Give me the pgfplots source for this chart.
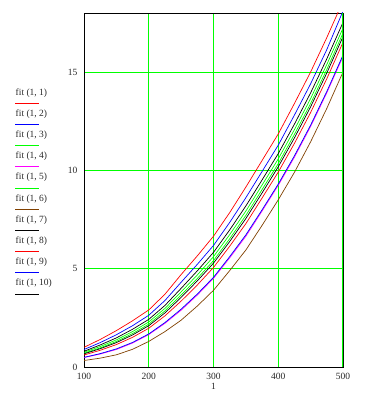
\documentclass[border=0pt]{standalone}
\usepackage{pgfplots}
\pgfplotsset{compat=1.18}
\usepackage{fontspec}
\setmainfont{Liberation Serif}
\definecolor{mgreen}{RGB}{0,255,0}
\definecolor{mred}{RGB}{255,0,0}
\definecolor{mblue}{RGB}{0,0,255}
\definecolor{mmag}{RGB}{255,0,255}
\definecolor{mbrown}{RGB}{128,64,0}
\definecolor{txt}{RGB}{40,40,40}
\begin{document}
\begin{tikzpicture}[x=1pt,y=1pt]
\path (0,0) rectangle (367,398);
\begin{axis}[
  at={(84pt,31pt)}, anchor=south west,
  scale only axis, width=259pt, height=354pt,
  xmin=100, xmax=500, ymin=0, ymax=18,
  xtick={100,200,300,400,500}, ytick={0,5,10,15},
  grid=major, major grid style={mgreen, line width=0.8pt},
  major tick length=0pt,
  axis line style={black, line width=0.8pt},
  tick label style={font=\fontsize{9.5}{10}\selectfont, text=txt},
  /pgf/number format/assume math mode=true,
  xticklabel style={yshift=-3pt},
  yticklabel style={xshift=-3pt},
  xlabel={1}, xlabel style={font=\fontsize{9.5}{10}\selectfont, text=txt, yshift=4pt},
  clip=true,
  every axis plot/.append style={line width=0.7pt},
]
% fit(1,1) red top
\addplot[mred] coordinates {(100,1.00)(125,1.40)(150,1.85)(175,2.35)(200,2.90)(225,3.70)(250,4.70)(275,5.65)(300,6.65)(325,7.85)(350,9.15)(375,10.50)(400,11.85)(425,13.40)(450,15.00)(475,16.75)(500,18.60)};
% fit(1,2) blue
\addplot[mblue] coordinates {(100,0.89)(125,1.24)(150,1.64)(175,2.10)(200,2.63)(225,3.38)(250,4.31)(275,5.22)(300,6.18)(325,7.35)(350,8.61)(375,9.94)(400,11.28)(425,12.81)(450,14.40)(475,16.14)(500,18.10)};
% fit(1,3) green
\addplot[mgreen] coordinates {(100,0.75)(125,1.04)(150,1.38)(175,1.80)(200,2.29)(225,2.98)(250,3.82)(275,4.68)(300,5.61)(325,6.73)(350,7.93)(375,9.25)(400,10.58)(425,12.07)(450,13.65)(475,15.38)(500,17.23)};
% fit(1,4) magenta
\addplot[mmag] coordinates {(100,0.48)(125,0.66)(150,0.89)(175,1.22)(200,1.65)(225,2.22)(250,2.89)(275,3.66)(300,4.51)(325,5.55)(350,6.65)(375,7.93)(400,9.24)(425,10.67)(450,12.23)(475,13.94)(500,15.79)};
% fit(1,5) green
\addplot[mgreen] coordinates {(100,0.70)(125,0.97)(150,1.30)(175,1.70)(200,2.18)(225,2.85)(250,3.66)(275,4.50)(300,5.41)(325,6.52)(350,7.71)(375,9.02)(400,10.34)(425,11.83)(450,13.40)(475,15.13)(500,16.98)};
% fit(1,6) brown
\addplot[mbrown] coordinates {(100,0.33)(125,0.45)(150,0.62)(175,0.90)(200,1.30)(225,1.80)(250,2.38)(275,3.10)(300,3.90)(325,4.90)(350,5.95)(375,7.20)(400,8.50)(425,9.90)(450,11.45)(475,13.15)(500,15.00)};
% fit(1,7) black
\addplot[black] coordinates {(100,0.80)(125,1.12)(150,1.48)(175,1.92)(200,2.42)(225,3.13)(250,4.00)(275,4.89)(300,5.83)(325,6.97)(350,8.19)(375,9.51)(400,10.85)(425,12.35)(450,13.94)(475,15.67)(500,17.52)};
% fit(1,8) red
\addplot[mred] coordinates {(100,0.61)(125,0.85)(150,1.14)(175,1.51)(200,1.97)(225,2.60)(250,3.35)(275,4.17)(300,5.06)(325,6.14)(350,7.29)(375,8.59)(400,9.91)(425,11.37)(450,12.94)(475,14.66)(500,16.51)};
% fit(1,9) blue
\addplot[mblue] coordinates {(100,0.49)(125,0.68)(150,0.92)(175,1.25)(200,1.68)(225,2.26)(250,2.94)(275,3.71)(300,4.56)(325,5.61)(350,6.72)(375,7.99)(400,9.30)(425,10.74)(450,12.30)(475,14.01)(500,15.86)};
% fit(1,10) black
\addplot[black] coordinates {(100,0.67)(125,0.93)(150,1.24)(175,1.63)(200,2.10)(225,2.75)(250,3.54)(275,4.38)(300,5.28)(325,6.38)(350,7.55)(375,8.85)(400,10.18)(425,11.65)(450,13.23)(475,14.95)(500,16.80)};
\draw[mgreen, line width=1.6pt] (axis cs:500,0) -- (axis cs:500,18);
\end{axis}
% legend
\foreach \i/\c in {0/mred,1/mblue,2/mgreen,3/mmag,4/mgreen,5/mbrown,6/black,7/mred,8/mblue,9/black}{
  \pgfmathsetmacro{\ty}{398-(92.7+21.2*\i)}
  \pgfmathsetmacro{\ly}{398-(103.3+21.2*\i)}
  \pgfmathtruncatemacro{\n}{\i+1}
  \node[anchor=west, inner sep=0pt, text=txt, font=\fontsize{9.5}{10}\selectfont] at (15.5,\ty) {fit (1, \n)};
  \draw[\c, line width=0.8pt] (15,\ly) -- (39,\ly);
}
\end{tikzpicture}
\end{document}
